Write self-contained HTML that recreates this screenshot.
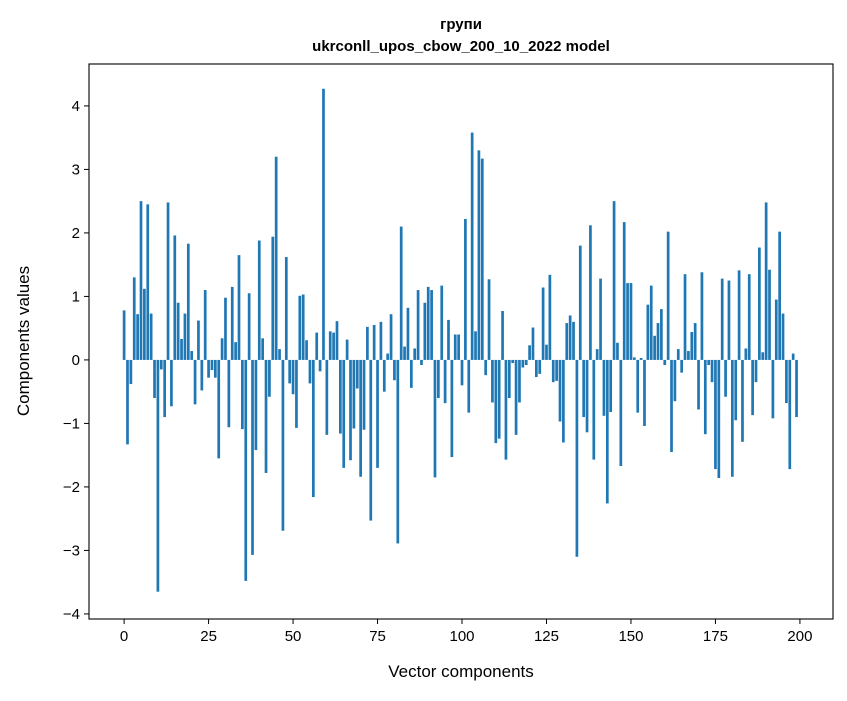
<!DOCTYPE html>
<html><head><meta charset="utf-8"><style>
body{margin:0;background:#fff;}
svg{font-family:"Liberation Sans","DejaVu Sans",sans-serif;}
</style></head><body>
<svg id="chart" width="847" height="696" viewBox="0 0 847 696" xmlns="http://www.w3.org/2000/svg">
<rect width="847" height="696" fill="#fff"/>
<text x="461" y="29" text-anchor="middle" font-size="15" font-weight="bold">групи</text>
<text x="461" y="51" text-anchor="middle" font-size="15" font-weight="bold">ukrconll_upos_cbow_200_10_2022 model</text>
<g id="bars"></g>
<g id="axes"></g>
<text x="461" y="677" text-anchor="middle" font-size="17">Vector components</text>
<text transform="translate(29,341) rotate(-90)" text-anchor="middle" font-size="17">Components values</text>
</svg>
<script>
const values = [0.78,-1.33,-0.38,1.3,0.72,2.5,1.12,2.45,0.73,-0.6,-3.65,-0.15,-0.9,2.48,-0.73,1.96,0.9,0.33,0.73,1.83,0.14,-0.7,0.62,-0.48,1.1,-0.28,-0.16,-0.28,-1.55,0.34,0.98,-1.06,1.15,0.28,1.65,-1.09,-3.48,1.05,-3.07,-1.42,1.88,0.34,-1.78,-0.58,1.94,3.2,0.17,-2.69,1.62,-0.37,-0.54,-1.07,1.01,1.03,0.31,-0.37,-2.16,0.43,-0.18,4.27,-1.18,0.45,0.43,0.61,-1.16,-1.7,0.32,-1.58,-1.08,-0.45,-1.84,-1.1,0.52,-2.53,0.55,-1.7,0.6,-0.5,0.1,0.72,-0.32,-2.89,2.1,0.21,0.82,-0.44,0.18,1.1,-0.08,0.9,1.15,1.1,-1.85,-0.6,1.17,-0.68,0.63,-1.53,0.4,0.4,-0.4,2.22,-0.83,3.58,0.45,3.3,3.17,-0.24,1.27,-0.67,-1.31,-1.24,0.77,-1.57,-0.6,-0.05,-1.18,-0.67,-0.12,-0.08,0.23,0.51,-0.27,-0.22,1.14,0.24,1.34,-0.35,-0.33,-0.97,-1.3,0.58,0.7,0.6,-3.1,1.8,-0.9,-1.14,2.12,-1.57,0.17,1.28,-0.88,-2.26,-0.82,2.5,0.27,-1.67,2.17,1.21,1.21,0.04,-0.83,0.03,-1.04,0.87,1.17,0.38,0.58,0.8,-0.08,2.02,-1.45,-0.65,0.17,-0.2,1.35,0.14,0.44,0.58,-0.78,1.38,-1.17,-0.08,-0.35,-1.72,-1.86,1.28,-0.58,1.25,-1.84,-0.95,1.41,-1.29,0.18,1.35,-0.87,-0.35,1.77,0.12,2.48,1.42,-0.92,0.95,2.02,0.73,-0.68,-1.72,0.1,-0.9];
const xTicks = [0,25,50,75,100,125,150,175,200];
const yTicks = [-4,-3,-2,-1,0,1,2,3,4];
const L=89,R=833,T=64,B=619;
const xMin=-10.39,xMax=209.79,yMin=-4.08,yMax=4.66;
const sx=v=>L+(v-xMin)/(xMax-xMin)*(R-L);
const sy=v=>B-(v-yMin)/(yMax-yMin)*(B-T);
const NS="http://www.w3.org/2000/svg";
const bars=document.getElementById('bars');
values.forEach((v,i)=>{
  const r=document.createElementNS(NS,'rect');
  
  
  const x0=sx(i-0.4),x1=sx(i+0.4);
  const y0=sy(Math.max(v,0)),y1=sy(Math.min(v,0));
  r.setAttribute('x',x0);r.setAttribute('width',x1-x0);
  r.setAttribute('y',y0);r.setAttribute('height',Math.max(y1-y0,0.3));
  r.setAttribute('fill','#1f77b4');
  bars.appendChild(r);
});
const axes=document.getElementById('axes');
const frame=document.createElementNS(NS,'rect');


frame.setAttribute('x',L);frame.setAttribute('y',T);frame.setAttribute('width',R-L);frame.setAttribute('height',B-T);
frame.setAttribute('fill','none');frame.setAttribute('stroke','#000');frame.setAttribute('stroke-width','1.1');
axes.appendChild(frame);
xTicks.forEach(t=>{
  const x=sx(t);
  const l=document.createElementNS(NS,'line');
  
  
  l.setAttribute('x1',x);l.setAttribute('x2',x);l.setAttribute('y1',B);l.setAttribute('y2',B+5);l.setAttribute('stroke','#000');
  axes.appendChild(l);
  const s=document.createElementNS(NS,'text');
  
  
  s.setAttribute('x',x);s.setAttribute('y',B+22);s.setAttribute('text-anchor','middle');s.setAttribute('font-size','15');
  s.textContent=t;axes.appendChild(s);
});
yTicks.forEach(t=>{
  const y=sy(t);
  const l=document.createElementNS(NS,'line');
  
  
  l.setAttribute('x1',L-5);l.setAttribute('x2',L);l.setAttribute('y1',y);l.setAttribute('y2',y);l.setAttribute('stroke','#000');
  axes.appendChild(l);
  const s=document.createElementNS(NS,'text');
  
  
  s.setAttribute('x',L-9);s.setAttribute('y',y+5);s.setAttribute('text-anchor','end');s.setAttribute('font-size','15');
  s.textContent=t<0?'\u2212'+Math.abs(t):t;axes.appendChild(s);
});
</script>
</body></html>
